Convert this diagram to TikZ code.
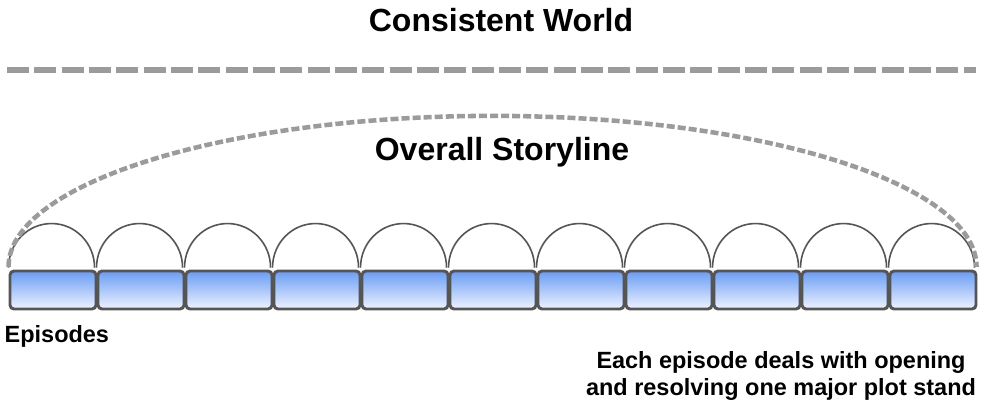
\documentclass[tikz,border=0pt]{standalone}
\usepackage{fontspec}
\setmainfont{Liberation Sans}
\usetikzlibrary{positioning}
\definecolor{rimgray}{HTML}{555555}
\definecolor{dashgray}{HTML}{9B9B9B}
\definecolor{epitop}{HTML}{6A9CF4}
\definecolor{epibottom}{HTML}{EEF3FF}

\begin{document}
\begin{tikzpicture}[x=0.75pt,y=-0.75pt,
    episode/.style ={draw=rimgray, line width=2.2pt, rounded corners=3pt,
      top color=epitop, bottom color=epibottom, minimum width=64.5pt,
      minimum height=28.5pt, inner sep=0pt},
    title/.style ={font=\bfseries\fontsize{24}{28}\selectfont},
    caption/.style ={font=\bfseries\fontsize{17.6}{20.3}\selectfont, align=center}]
   \useasboundingbox (0,0) rectangle (1002,415);
   \node[title] (world) at (501,20) {Consistent World};
   \draw[dashgray, line width=3.8pt, dash pattern=on 16.5pt off 4pt] (7,70) -- (976,70);
   \node[title] (story) at (502,152) {Overall Storyline};
   \foreach \i in {1,...,11}
     \node[episode] (ep\i) at ({53+(\i-1)*88},290) {};
   \foreach \i in {1,...,11}
     \draw[rimgray, line width=1.2pt] ([yshift=1.5pt]ep\i.north west) arc[start angle=180, end angle=360, x radius=43, y radius=44];
   \draw[dashgray, line width=3.4pt, dash pattern=on 6pt off 2.3pt] ([yshift=2pt]ep1.north west) arc[start angle=180, end angle=360, x radius=484, y radius=151];
   \node[caption, anchor=north west] (epis) at (0,321) {Episodes};
   \node[caption] (note) at (781,376) {Each episode deals with opening\\and resolving one major plot stand};
 \end{tikzpicture}
\end{document}
